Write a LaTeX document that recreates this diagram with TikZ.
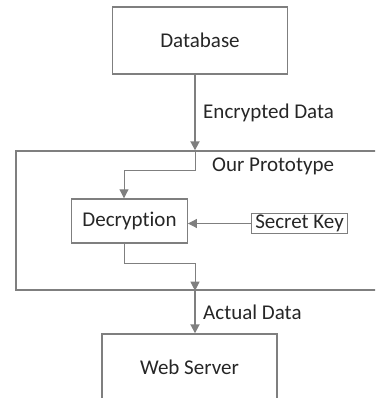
\documentclass[tikz,border=0pt]{standalone}
\usepackage{fontspec}
\setmainfont{Carlito}[Ligatures={NoCommon,NoContextual}]
\usetikzlibrary{arrows.meta}
\definecolor{linegray}{RGB}{127,127,127}
\begin{document}
\begin{tikzpicture}[x=1pt, y=-1pt, every node/.style={font=\fontsize{21}{24}\selectfont, text=black!85}]
    % Define styles
    \tikzstyle{block} = [draw=linegray, line width=1.4pt, rectangle, minimum width=175pt, minimum height=67pt, inner sep=0pt]
    \tikzstyle{frame} = [draw=linegray, line width=1.4pt, rectangle, minimum width=374pt, minimum height=139pt, inner sep=0pt]
    \tikzstyle{small} = [draw=linegray, line width=1.4pt, rectangle, inner xsep=4pt, inner ysep=1.5pt, outer sep=0pt]
    \tikzstyle{flow} = [draw=linegray, line width=1.8pt, -{Triangle[length=9pt, width=9pt]}]
    \tikzstyle{inner} = [draw=linegray, line width=1pt, -{Triangle[length=9pt, width=9pt]}]

    \useasboundingbox (0,0) rectangle (375,398);
    \clip (0,0) rectangle (375,398);

    % Nodes
    \node[block] (db) at (200, 40.5) {Database};
    \node[frame] (proto) at (203, 220.5) {};
    \node[anchor=west, inner sep=0pt] (protolabel) at (212, 166) {Our Prototype};
    \node[block, minimum width=115.5pt, minimum height=44pt] (dec) at (129.5, 221) {Decryption};
    \node[small] (key) at (299.5, 223.5) {Secret Key};
    \node[block] (web) at (189.5, 367.5) {Web Server};
    \coordinate (mainx) at (195, 0);
    \coordinate (decx) at (124, 0);

    % Data flow
    \draw[flow] (db.south -| mainx) -- (proto.north -| mainx) node[midway, right, xshift=4pt] {Encrypted Data};
    \draw[inner] (proto.north -| mainx) -- ++(0, 20) -| (dec.north -| decx);
    \draw[inner] (key.west) -- (key.west -| dec.east);
    \draw[inner] (dec.south -| decx) -- ++(0, 20) -| (proto.south -| mainx);
    \draw[flow] (proto.south -| mainx) -- (web.north -| mainx) node[midway, right, xshift=4pt] {Actual Data};
\end{tikzpicture}
\end{document}
